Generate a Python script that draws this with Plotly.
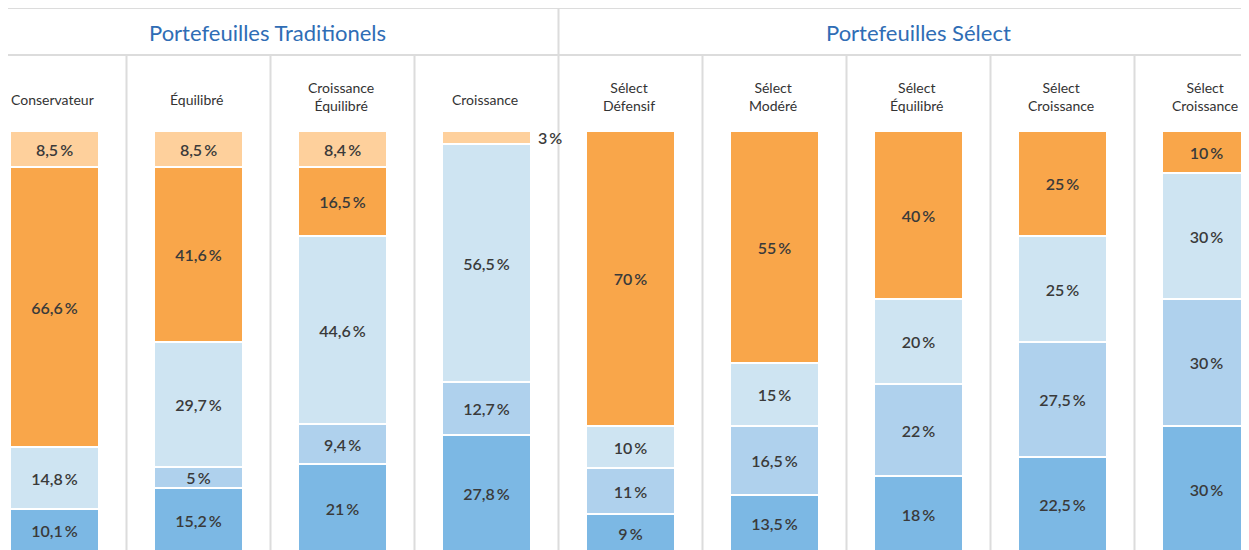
import plotly.graph_objects as go

categories = ["Conservateur", "Équilibré", "Croissance<br>Équilibré", "Croissance",
              "Sélect<br>Défensif", "Sélect<br>Modéré", "Sélect<br>Équilibré",
              "Sélect<br>Croissance", "Sélect<br>Croissance"]
groups = ["Portefeuilles Traditionels", "Portefeuilles Sélect"]

# stacked bottom -> top
s_blue      = [10.1, 15.2, 21.0, 27.8, 9.0, 13.5, 18.0, 22.5, 30.0]
s_midblue   = [0.0, 5.0, 9.4, 12.7, 11.0, 16.5, 22.0, 27.5, 30.0]
s_lightblue = [14.8, 29.7, 44.6, 56.5, 10.0, 15.0, 20.0, 25.0, 30.0]
s_orange    = [66.6, 41.6, 16.5, 0.0, 70.0, 55.0, 40.0, 25.0, 10.0]
s_peach     = [8.5, 8.5, 8.4, 3.0, 0.0, 0.0, 0.0, 0.0, 0.0]

series = [
    (s_blue, "#7cb8e4"),
    (s_midblue, "#afd1ed"),
    (s_lightblue, "#cee4f2"),
    (s_orange, "#f9a64a"),
    (s_peach, "#fed09c"),
]

def fmt(v):
    s = f"{v:g}".replace(".", ",")
    return s + "\u2009%"

W, H = 1249, 550
OFF = 8  # page body margin
x_idx = list(range(len(categories)))
LBL_FONT = dict(family="Lato", size=16, color="#3a3a3a", weight=600)

fig = go.Figure()
for vals, col in series:
    texts = ["" if (v == 0 or v < 4) else fmt(v) for v in vals]
    fig.add_trace(go.Bar(
        x=x_idx, y=vals, marker=dict(color=col, line=dict(color="white", width=2)),
        width=0.62, text=texts, textposition="inside", insidetextanchor="middle",
        textangle=0, textfont=LBL_FONT,
        hoverinfo="skip", showlegend=False,
    ))

annotations = []
for i, v in enumerate(s_peach):
    if 0 < v < 4:
        base = s_blue[i] + s_midblue[i] + s_lightblue[i] + s_orange[i]
        annotations.append(dict(x=i + 0.31, y=base + v / 2, xref="x", yref="y",
                                text=fmt(v), showarrow=False, xanchor="left",
                                xshift=5, font=LBL_FONT))

def py(page_y):
    return 1 - (page_y - OFF) / H

for i, c in enumerate(categories):
    two = "<br>" in c
    annotations.append(dict(x=i, y=py(96 if two else 100), xref="x", yref="paper", text=c,
                            showarrow=False, yanchor="middle", xshift=-2,
                            font=dict(family="Lato", size=14, color="#333333")))

annotations.append(dict(x=1.48, y=py(32), xref="x", yref="paper", text=groups[0],
                        showarrow=False, yanchor="middle",
                        font=dict(family="Lato", size=22, color="#2f6db5")))
annotations.append(dict(x=6.0, y=py(32), xref="x", yref="paper", text=groups[1],
                        showarrow=False, yanchor="middle",
                        font=dict(family="Lato", size=22, color="#2f6db5")))

shapes = []
line_col = "#dcdcdc"
for k in range(len(categories) - 1):
    top = py(8) if k == 3 else py(55)
    shapes.append(dict(type="line", xref="x", yref="paper", x0=k + 0.5, x1=k + 0.5,
                       y0=0, y1=top, line=dict(color=line_col, width=2)))
for p in (8, 55):
    shapes.append(dict(type="line", xref="paper", yref="paper", x0=0, x1=1,
                       y0=py(p), y1=py(p), line=dict(color=line_col, width=2)))

c0 = 54.5 - OFF
step = 144.0
y0px, y100px = 552.0 - OFF, 131.0 - OFF
ppu = (y0px - y100px) / 100.0

fig.update_layout(
    width=W, height=H, barmode="stack", bargap=0,
    margin=dict(l=0, r=0, t=0, b=0),
    paper_bgcolor="white", plot_bgcolor="white",
    xaxis=dict(range=[-c0 / step, (W - c0) / step], visible=False, fixedrange=True),
    yaxis=dict(range=[(y0px - H) / ppu, y0px / ppu], visible=False, fixedrange=True),
    annotations=annotations, shapes=shapes,
    uniformtext=dict(minsize=16, mode="show"),
)

fig.write_html("out.html")
